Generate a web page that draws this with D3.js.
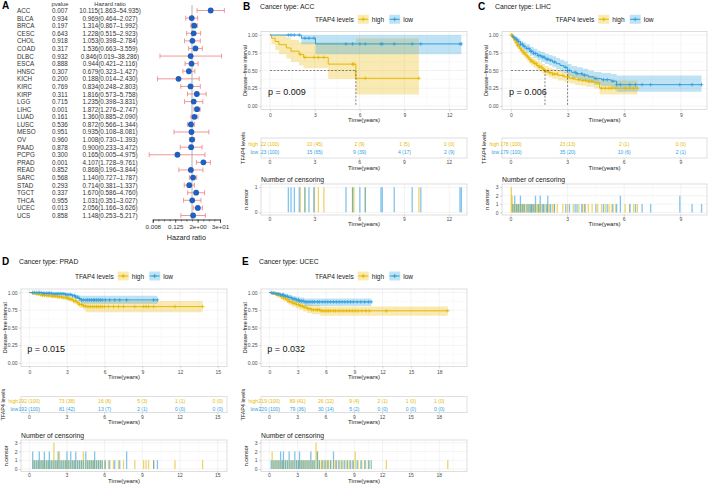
<!DOCTYPE html>
<html><head><meta charset="utf-8">
<script src="https://cdn.jsdelivr.net/npm/d3@7"></script>
<style>body{margin:0;background:#fff} svg{display:block;font-family:"Liberation Sans",Arial,sans-serif}</style>
</head><body><svg id="c" width="709" height="486"></svg>
<script>
// ================= DATA =================
// Panel A: forest plot
const forestNames = ["ACC","BLCA","BRCA","CESC","CHOL","COAD","DLBC","ESCA","HNSC","KICH","KIRC","KIRP","LGG","LIHC","LUAD","LUSC","MESO","OV","PAAD","PCPG","PRAD","READ","SARC","STAD","TGCT","THCA","UCEC","UCS"];
const forestP = ["0.007","0.934","0.197","0.643","0.918","0.317","0.932","0.888","0.307","0.200","0.769","0.311","0.715","0.001","0.161","0.536","0.951","0.960","0.878","0.300","0.001","0.852","0.568","0.293","0.337","0.955","0.013","0.858"];
const forestHR = [10.115,0.969,1.314,1.228,1.053,1.536,0.846,0.944,0.679,0.188,0.834,1.816,1.235,1.872,1.360,0.872,0.935,1.008,0.900,0.165,4.107,0.868,1.140,0.714,1.670,1.031,2.056,1.148];
const forestLo = [1.863,0.464,0.867,0.515,0.398,0.663,0.019,0.421,0.323,0.014,0.248,0.573,0.398,1.276,0.885,0.566,0.108,0.730,0.233,0.005,1.728,0.196,0.727,0.381,0.586,0.351,1.166,0.253];
const forestHi = [54.935,2.027,1.992,2.923,2.784,3.559,38.286,2.116,1.427,2.430,2.803,5.758,3.831,2.747,2.090,1.344,8.081,1.393,3.472,4.975,9.761,3.844,1.787,1.337,4.760,3.027,3.626,5.217];
const forestTicks = [0.0078125,0.125,2,32];
const forestTickLabels = ["0.008","0.125","2e+00","3e+01"];

// Panel B: ACC
const accHighTime  = [0,0.1,0.35,0.6,1.1,1.4,1.95,2.25,3.9,5.75];
const accHighSurv  = [1,0.955,0.909,0.864,0.818,0.773,0.727,0.685,0.59,0.39];
const accHighLower = [1,0.87,0.79,0.73,0.67,0.62,0.57,0.53,0.38,0.16];
const accHighUpper = [1,1,1,1,0.97,0.93,0.90,0.90,0.90,0.95];
const accHighEnd = 9.97;
const accHighCensor = [2.03,2.34,2.95,3.24,3.61,5.53,5.62,6.38,9.97];
const accLowTime  = [0,2.1,3.05];
const accLowSurv  = [1,0.955,0.875];
const accLowLower = [1,0.87,0.73];
const accLowUpper = [1,1,1];
const accLowEnd = 12.81;
const accLowCensor = [1.23,1.41,1.63,1.96,2.34,2.61,2.95,5.09,5.53,6.02,6.38,7.43,7.52,8.32,9.52,10.1,12.72,12.81];
const accRiskTimes = [0,3,6,9,12];
const accRiskHigh = ["22 (100)","10 (45)","2 (9)","1 (5)","0 (0)"];
const accRiskLow  = ["23 (100)","15 (65)","9 (39)","4 (17)","2 (9)"];

// Panel C: LIHC
const lihcHighTime  = [0,0.08,0.15,0.25,0.35,0.45,0.55,0.65,0.75,0.85,0.95,1.05,1.2,1.35,1.5,1.65,1.8,2.0,2.2,2.5,2.8,3.1,3.4,3.7,4.0,4.4,4.7];
const lihcHighSurv  = [1,0.97,0.93,0.89,0.85,0.81,0.78,0.75,0.72,0.69,0.66,0.63,0.60,0.57,0.55,0.52,0.49,0.47,0.45,0.43,0.41,0.39,0.37,0.36,0.35,0.33,0.25];
const lihcHighLower = [1,0.945,0.895,0.85,0.80,0.76,0.72,0.69,0.66,0.63,0.60,0.57,0.54,0.51,0.485,0.455,0.425,0.405,0.385,0.36,0.34,0.315,0.295,0.285,0.27,0.245,0.16];
const lihcHighUpper = [1,0.99,0.965,0.93,0.895,0.86,0.83,0.81,0.78,0.75,0.72,0.69,0.665,0.635,0.615,0.59,0.56,0.54,0.52,0.50,0.48,0.465,0.45,0.44,0.43,0.415,0.36];
const lihcHighEnd = 6.7;
const lihcHighCensor = [0.02,0.02,0.02,0.06,0.06,0.12,0.2,0.28,0.35,0.42,0.5,0.58,0.66,0.72,0.8,0.9,1.0,1.08,1.15,1.25,1.33,1.42,1.5,1.6,1.72,1.85,1.95,2.05,2.2,2.3,2.45,2.75,3.0,3.3,3.6,3.8,3.95,4.1,4.3,4.6,4.8,5.0,5.2,5.35,5.55,6.05,6.3,6.5,6.7];
const lihcLowTime  = [0,0.08,0.15,0.25,0.35,0.5,0.65,0.8,1.0,1.2,1.4,1.6,1.8,2.0,2.2,2.4,2.6,2.8,3.0,3.2,3.5,3.8,4.1,4.4,4.8,5.3,5.6];
const lihcLowSurv  = [1,0.98,0.96,0.94,0.91,0.87,0.84,0.81,0.77,0.74,0.71,0.69,0.66,0.645,0.62,0.595,0.57,0.545,0.50,0.475,0.455,0.435,0.41,0.385,0.37,0.35,0.30];
const lihcLowLower = [1,0.96,0.93,0.90,0.865,0.82,0.785,0.75,0.71,0.675,0.645,0.62,0.59,0.57,0.545,0.52,0.49,0.465,0.42,0.395,0.37,0.35,0.325,0.30,0.28,0.26,0.20];
const lihcLowUpper = [1,1,0.99,0.975,0.955,0.92,0.895,0.87,0.835,0.805,0.78,0.76,0.735,0.72,0.70,0.675,0.65,0.63,0.59,0.565,0.545,0.525,0.50,0.48,0.465,0.45,0.43];
const lihcLowEnd = 10.1;
const lihcLowCensor = [0.1,0.2,0.2,0.3,0.4,0.5,0.5,0.6,0.7,0.85,0.95,1.05,1.1,1.2,1.3,1.3,1.45,1.55,1.55,1.68,1.75,1.9,1.95,1.95,2.1,2.3,2.9,3.1,3.4,3.5,3.75,3.9,4.5,4.9,5.1,5.4,5.6,5.8,5.8,6.3,6.6,6.95,7.4,8.95,8.95,9.6,10.1];
const lihcRiskTimes = [0,3,6,9];
const lihcRiskHigh = ["178 (100)","23 (13)","2 (1)","0 (0)"];
const lihcRiskLow  = ["179 (100)","35 (20)","10 (6)","2 (1)"];

// Panel D: PRAD
const pradHighTime  = [0,0.2,0.5,0.8,1.0,1.4,1.8,2.2,2.6,3.0,3.2,3.5,3.8,4.0,4.3,4.5];
const pradHighSurv  = [1,0.99,0.98,0.97,0.96,0.955,0.948,0.94,0.93,0.92,0.905,0.88,0.855,0.83,0.81,0.80];
const pradHighLower = [1,0.975,0.96,0.948,0.935,0.928,0.92,0.91,0.898,0.885,0.868,0.84,0.812,0.785,0.755,0.72];
const pradHighUpper = [1,1,0.998,0.993,0.985,0.982,0.977,0.972,0.965,0.958,0.945,0.925,0.9,0.885,0.875,0.88];
const pradHighEnd = 13.8;
const pradHighCensor = [0.3,0.45,0.6,0.75,0.9,1.05,1.2,1.35,1.5,1.65,1.8,1.96,1.96,1.96,2.1,2.25,2.4,2.4,2.55,2.7,2.85,3.0,3.1,3.25,3.4,3.55,3.7,3.85,4.0,4.15,4.3,4.3,4.45,4.6,4.75,4.9,5.05,5.2,5.35,5.5,5.65,5.8,6.0,6.3,6.7,7.1,7.5,8.4,9.1,9.3,9.5,9.9,11.6,13.8];
const pradLowTime  = [0,1.0,1.8,2.9,3.4,3.7,3.9,4.1];
const pradLowSurv  = [1,0.99,0.983,0.97,0.955,0.935,0.915,0.895];
const pradLowLower = [1,0.975,0.965,0.948,0.928,0.905,0.875,0.84];
const pradLowUpper = [1,1,1,0.993,0.983,0.967,0.96,0.955];
const pradLowEnd = 10.2;
const pradLowCensor = [0.27,0.27,0.4,0.55,0.7,0.8,0.8,0.95,1.1,1.2,1.2,1.35,1.5,1.6,1.6,1.75,1.9,2.05,2.2,2.3,2.3,2.45,2.6,2.75,2.9,3.0,3.0,3.15,3.3,3.3,3.45,3.6,3.7,3.7,3.85,4.0,4.15,4.3,4.5,4.5,4.65,4.8,4.95,5.1,5.2,5.2,5.35,5.5,5.65,5.8,6.05,6.4,6.8,7.2,7.75,7.75,9.9,10.2];
const pradRiskTimes = [0,3,6,9,12,15];
const pradRiskHigh = ["192 (100)","73 (38)","16 (8)","5 (3)","1 (1)","0 (0)"];
const pradRiskLow  = ["192 (100)","81 (42)","13 (7)","2 (1)","0 (0)","0 (0)"];

// Panel E: UCEC
const ucecHighTime  = [0,0.3,0.6,0.9,1.2,1.5,1.8,2.1,2.4,2.8,3.2,3.6,4.0,4.5,5.4];
const ucecHighSurv  = [1,0.99,0.98,0.96,0.94,0.92,0.895,0.87,0.85,0.83,0.81,0.79,0.77,0.755,0.74];
const ucecHighLower = [1,0.972,0.955,0.928,0.9,0.876,0.848,0.82,0.797,0.775,0.752,0.73,0.708,0.69,0.67];
const ucecHighUpper = [1,1,1,0.99,0.978,0.963,0.942,0.92,0.904,0.887,0.87,0.853,0.835,0.823,0.80];
const ucecHighEnd = 18.9;
const ucecHighCensor = [0.3,0.3,0.5,0.7,0.9,1.1,1.3,1.5,1.7,1.9,2.1,2.3,2.5,2.7,2.9,3.1,3.3,3.5,3.7,3.9,4.1,4.3,4.5,4.7,4.95,4.95,4.95,5.1,5.1,5.3,5.5,5.7,5.9,6.1,6.3,6.5,6.8,7.0,7.3,7.6,7.9,8.2,8.5,8.8,9.1,9.1,9.4,9.8,10.2,10.6,12.4,18.9];
const ucecLowTime  = [0,0.4,0.8,1.2,1.6,2.0,2.4,2.8,3.2,3.7];
const ucecLowSurv  = [1,0.99,0.98,0.965,0.948,0.93,0.91,0.895,0.88,0.867];
const ucecLowLower = [1,0.972,0.955,0.935,0.915,0.893,0.87,0.853,0.836,0.81];
const ucecLowUpper = [1,1,1,0.995,0.982,0.968,0.952,0.94,0.928,0.914];
const ucecLowEnd = 10.8;
const ucecLowCensor = [0.2,0.4,0.6,0.8,1.0,1.2,1.2,1.4,1.5,1.5,1.7,1.9,2.1,2.1,2.3,2.5,2.7,2.7,2.9,3.1,3.2,3.2,3.4,3.6,3.8,4.0,4.2,4.4,4.4,4.6,4.8,5.1,5.1,5.3,5.6,5.9,6.2,6.5,6.8,6.8,7.1,7.4,7.7,8.0,8.3,8.6,8.9,9.3,9.7,10.1,10.5,10.8];
const ucecRiskTimes = [0,3,6,9,12,15,18];
const ucecRiskHigh = ["219 (100)","89 (41)","26 (12)","9 (4)","2 (1)","1 (0)","1 (0)"];
const ucecRiskLow  = ["220 (100)","79 (36)","30 (14)","5 (2)","0 (0)","0 (0)","0 (0)"];

const groupNames = ["high","low"];
const legendTitle = "TFAP4 levels";

// ================= DRAW =================
const svg = d3.select("#c");
const HIGH = "#E7B800", LOW = "#2E9FDF";
const GRID = "#e6e6e6", GRIDMINOR = "#f3f3f3", BORDER = "#c8c8c8", TICKTXT = "#4d4d4d";

// ---------- Panel A ----------
(function(){
  const g = svg.append("g");
  const fy = d3.scalePoint().domain(forestNames).range([10.5, 215.5]);
  const fx = d3.scaleLog().base(2).domain([2**-7, 32]).range([152.8, 220]);
  const FS = 6.3;
  g.append("text").attr("x",2).attr("y",9).attr("font-weight","bold").attr("font-size",10).text("A");
  g.append("text").attr("x",60).attr("y",4).attr("dominant-baseline","central").attr("text-anchor","middle").attr("font-size",5.8).attr("fill","#333").text("pvalue");
  g.append("text").attr("x",110).attr("y",4).attr("dominant-baseline","central").attr("text-anchor","middle").attr("font-size",5.8).attr("fill","#333").text("Hazard ratio");
  forestNames.forEach((n,i)=>{
    const yy = fy(n);
    g.append("text").attr("x",17).attr("y",yy).attr("dominant-baseline","central").attr("font-size",FS).attr("fill","#333").text(n);
    g.append("text").attr("x",60).attr("y",yy).attr("dominant-baseline","central").attr("text-anchor","middle").attr("font-size",FS).attr("fill","#333").text(forestP[i]);
    g.append("text").attr("x",110).attr("y",yy).attr("dominant-baseline","central").attr("text-anchor","middle").attr("font-size",FS).attr("fill","#333")
      .text(`${forestHR[i].toFixed(3)}(${forestLo[i].toFixed(3)}\u2013${forestHi[i].toFixed(3)})`);
  });
  // reference line at HR = 1
  g.append("line").attr("x1",fx(1)).attr("x2",fx(1)).attr("y1",5).attr("y2",219).attr("stroke","#a0a0a0").attr("stroke-width",0.8);
  const eb = g.append("g").attr("stroke","#f28b8b").attr("stroke-width",0.9).attr("fill","none");
  forestNames.forEach((n,i)=>{
    const yy = fy(n), x1 = fx(forestLo[i]), x2 = fx(forestHi[i]);
    eb.append("line").attr("x1",x1).attr("x2",x2).attr("y1",yy).attr("y2",yy);
    eb.append("line").attr("x1",x1).attr("x2",x1).attr("y1",yy-2.4).attr("y2",yy+2.4);
    eb.append("line").attr("x1",x2).attr("x2",x2).attr("y1",yy-2.4).attr("y2",yy+2.4);
  });
  g.selectAll("circle.f").data(forestNames).join("circle").attr("class","f")
    .attr("cx",(d,i)=>fx(forestHR[i])).attr("cy",d=>fy(d)).attr("r",2.9).attr("fill","#1f5fbf");
  // axis
  const minor = d3.range(-7,6).map(k=>2**k);
  const axMinor = d3.axisBottom(fx).tickValues(minor).tickSize(2).tickFormat("");
  const axMajor = d3.axisBottom(fx).tickValues(forestTicks).tickSize(3.5).tickPadding(2)
      .tickFormat((d,i)=>forestTickLabels[i]);
  const a1 = g.append("g").attr("transform","translate(0,219.5)").call(axMinor);
  const a2 = g.append("g").attr("transform","translate(0,219.5)").call(axMajor);
  [a1,a2].forEach(a=>{ a.selectAll("path,line").attr("stroke","#333").attr("stroke-width",0.6); a.selectAll("text").attr("font-size",6.2).attr("fill","#333").attr("font-family",null); });
  g.append("text").attr("x",(fx.range()[0]+fx.range()[1])/2).attr("y",237.5).attr("dominant-baseline","central").attr("text-anchor","middle").attr("font-size",7.2).attr("fill","#222").text("Hazard ratio");
})();

// ---------- KM panels ----------
function mkGroup(name,color,time,surv,lower,upper,end,censor){ return {name,color,time,surv,lower,upper,end,censor}; }

const panels = [
  { letter:"B", title:"Cancer type: ACC", lx:243, headY:6, legendY:19.3,
    km:{x0:261,x1:467,y0:31.5,y1:109.5}, xDomain:[-0.60,13.19], ticks:accRiskTimes, pval:"p = 0.009",
    risk:{y0:138,y1:158,hy:144.3,ly:151.7,tickY:162.3,titleY:167.7},
    cens:{titleY:179.3,y0:184,y1:215,zeroY:212.3,topY:187.3,max:1,tickY:219,titleY2:224.3},
    groups:[mkGroup("high",HIGH,accHighTime,accHighSurv,accHighLower,accHighUpper,accHighEnd,accHighCensor),
            mkGroup("low",LOW,accLowTime,accLowSurv,accLowLower,accLowUpper,accLowEnd,accLowCensor)],
    riskHigh:accRiskHigh, riskLow:accRiskLow },
  { letter:"C", title:"Cancer type: LIHC", lx:478, headY:6, legendY:19.3,
    km:{x0:502,x1:707,y0:31.5,y1:109.5}, xDomain:[-0.477,10.39], ticks:lihcRiskTimes, pval:"p = 0.006",
    risk:{y0:138,y1:158,hy:144.3,ly:151.7,tickY:162.3,titleY:167.7},
    cens:{titleY:179.3,y0:184,y1:215,zeroY:212.5,topY:187.3,max:3,tickY:219,titleY2:224.3},
    groups:[mkGroup("high",HIGH,lihcHighTime,lihcHighSurv,lihcHighLower,lihcHighUpper,lihcHighEnd,lihcHighCensor),
            mkGroup("low",LOW,lihcLowTime,lihcLowSurv,lihcLowLower,lihcLowUpper,lihcLowEnd,lihcLowCensor)],
    riskHigh:lihcRiskHigh, riskLow:lihcRiskLow },
  { letter:"D", title:"Cancer type: PRAD", lx:2, headY:261.7, legendY:276,
    km:{x0:21,x1:227,y0:289,y1:366.5}, xDomain:[-0.66,15.74], ticks:pradRiskTimes, pval:"p = 0.015",
    risk:{y0:396.7,y1:412.7,hy:400.7,ly:408.7,tickY:416.7,titleY:422.3},
    cens:{titleY:435.7,y0:440,y1:471.7,zeroY:469,topY:442.7,max:3,tickY:475,titleY2:480.5},
    groups:[mkGroup("high",HIGH,pradHighTime,pradHighSurv,pradHighLower,pradHighUpper,pradHighEnd,pradHighCensor),
            mkGroup("low",LOW,pradLowTime,pradLowSurv,pradLowLower,pradLowUpper,pradLowEnd,pradLowCensor)],
    riskHigh:pradRiskHigh, riskLow:pradRiskLow },
  { letter:"E", title:"Cancer type: UCEC", lx:242, headY:261.7, legendY:276,
    km:{x0:261,x1:467,y0:289,y1:366.5}, xDomain:[-0.88,20.94], ticks:ucecRiskTimes, pval:"p = 0.032",
    risk:{y0:396.7,y1:412.7,hy:400.7,ly:408.7,tickY:416.7,titleY:422.3},
    cens:{titleY:435.7,y0:440,y1:471.7,zeroY:469,topY:442.7,max:3,tickY:475,titleY2:480.5},
    groups:[mkGroup("high",HIGH,ucecHighTime,ucecHighSurv,ucecHighLower,ucecHighUpper,ucecHighEnd,ucecHighCensor),
            mkGroup("low",LOW,ucecLowTime,ucecLowSurv,ucecLowLower,ucecLowUpper,ucecLowEnd,ucecLowCensor)],
    riskHigh:ucecRiskHigh, riskLow:ucecRiskLow }
];

function styleAxis(a, fs){
  a.select(".domain").remove();
  a.selectAll("line").attr("stroke","#b3b3b3").attr("stroke-width",0.5);
  a.selectAll("text").attr("font-size",fs||5).attr("fill",TICKTXT).attr("font-family",null);
}
function txt(g,x,y,s,fs,opt){
  const t = g.append("text").attr("x",x).attr("y",y).attr("dominant-baseline","central").attr("font-size",fs).text(s);
  if(opt){ Object.keys(opt).forEach(k=>t.attr(k,opt[k])); }
  return t;
}
function stepVal(times, vals, t){ const i = d3.bisectRight(times, t) - 1; return vals[Math.max(0,i)]; }

function drawKM(p){
  const g = svg.append("g");
  const x = d3.scaleLinear().domain(p.xDomain).range([p.km.x0,p.km.x1]);
  const y = d3.scaleLinear().domain([-0.05,1.05]).range([p.km.y1,p.km.y0]);
  const cx = (p.km.x0+p.km.x1)/2;
  const step = p.ticks[1]-p.ticks[0];
  const minorX = d3.range(p.ticks[0]-step/2, p.xDomain[1], step).filter(v=>v>p.xDomain[0]);

  // header
  txt(g,p.lx,p.headY,p.letter,10,{"font-weight":"bold"});
  txt(g,p.lx+17,p.headY,p.title,6.8,{fill:"#222"});

  // legend
  const lg = g.append("g");
  let cur = 0;
  const lt = txt(lg,0,p.legendY,legendTitle,6.6,{fill:"#222"});
  cur = lt.node().getComputedTextLength()+4;
  p.groups.forEach(gr=>{
    lg.append("rect").attr("x",cur).attr("y",p.legendY-4.5).attr("width",11).attr("height",9).attr("fill",gr.color).attr("fill-opacity",0.3);
    lg.append("line").attr("x1",cur+0.5).attr("x2",cur+10.5).attr("y1",p.legendY).attr("y2",p.legendY).attr("stroke",gr.color).attr("stroke-width",1);
    lg.append("path").attr("d",`M${cur+3.5},${p.legendY}H${cur+7.5}M${cur+5.5},${p.legendY-2}V${p.legendY+2}`).attr("stroke",gr.color).attr("stroke-width",0.9);
    cur += 14;
    const tl = txt(lg,cur,p.legendY,gr.name,6.6,{fill:"#222"});
    cur += tl.node().getComputedTextLength()+5;
  });
  lg.attr("transform",`translate(${cx-(cur-5)/2},0)`);

  // KM panel grid
  const kg = g.append("g");
  minorX.forEach(v=>kg.append("line").attr("x1",x(v)).attr("x2",x(v)).attr("y1",p.km.y0).attr("y2",p.km.y1).attr("stroke",GRIDMINOR).attr("stroke-width",0.4));
  [0.125,0.375,0.625,0.875].forEach(v=>kg.append("line").attr("x1",p.km.x0).attr("x2",p.km.x1).attr("y1",y(v)).attr("y2",y(v)).attr("stroke",GRIDMINOR).attr("stroke-width",0.4));
  p.ticks.forEach(v=>kg.append("line").attr("x1",x(v)).attr("x2",x(v)).attr("y1",p.km.y0).attr("y2",p.km.y1).attr("stroke",GRID).attr("stroke-width",0.5));
  [0,0.25,0.5,0.75,1].forEach(v=>kg.append("line").attr("x1",p.km.x0).attr("x2",p.km.x1).attr("y1",y(v)).attr("y2",y(v)).attr("stroke",GRID).attr("stroke-width",0.5));

  // bands, lines
  const stepsOf = gr => { const pts = gr.time.map((t,i)=>({t,s:gr.surv[i],lo:gr.lower[i],up:gr.upper[i]})); const l = pts[pts.length-1]; pts.push({t:gr.end,s:l.s,lo:l.lo,up:l.up}); return pts; };
  const area = d3.area().curve(d3.curveStepAfter).x(d=>x(d.t)).y0(d=>y(d.lo)).y1(d=>y(d.up));
  const line = d3.line().curve(d3.curveStepAfter).x(d=>x(d.t)).y(d=>y(d.s));
  p.groups.forEach(gr=>g.append("path").attr("d",area(stepsOf(gr))).attr("fill",gr.color).attr("fill-opacity",0.3));
  p.groups.forEach(gr=>g.append("path").attr("d",line(stepsOf(gr))).attr("fill","none").attr("stroke",gr.color).attr("stroke-width",1));
  p.groups.forEach(gr=>{
    const uniq = Array.from(new Set(gr.censor));
    g.append("path").attr("d",uniq.map(t=>{ const xx=x(t), yy=y(stepVal(gr.time,gr.surv,t)); return `M${xx-1.8},${yy}H${xx+1.8}M${xx},${yy-1.8}V${yy+1.8}`; }).join(""))
      .attr("stroke",gr.color).attr("stroke-width",0.8).attr("fill","none");
  });
  // median lines
  const meds = p.groups.map(gr=>{ const i = gr.surv.findIndex(s=>s<=0.5); return i>=0 ? gr.time[i] : null; }).filter(v=>v!==null);
  if(meds.length){
    const mg = g.append("g").attr("stroke","#333").attr("stroke-width",0.6).attr("stroke-dasharray","2,1.6");
    mg.append("line").attr("x1",x(0)).attr("x2",x(d3.max(meds))).attr("y1",y(0.5)).attr("y2",y(0.5));
    meds.forEach(m=>mg.append("line").attr("x1",x(m)).attr("x2",x(m)).attr("y1",y(0.5)).attr("y2",y(0)));
  }
  // border
  g.append("rect").attr("x",p.km.x0).attr("y",p.km.y0).attr("width",p.km.x1-p.km.x0).attr("height",p.km.y1-p.km.y0).attr("fill","none").attr("stroke",BORDER).attr("stroke-width",0.6);
  // p-value
  txt(g,x(0)-2,y(0.2),p.pval,9,{fill:"#111"});
  // axes
  styleAxis(g.append("g").attr("transform",`translate(${p.km.x0},0)`).call(d3.axisLeft(y).tickValues([0,0.25,0.5,0.75,1]).tickFormat(d3.format(".2f")).tickSize(2).tickPadding(1.5)));
  styleAxis(g.append("g").attr("transform",`translate(0,${p.km.y1})`).call(d3.axisBottom(x).tickValues(p.ticks).tickSize(2).tickPadding(1.5)));
  txt(g,cx,p.km.y1+10,"Time(years)",6,{"text-anchor":"middle",fill:"#222"});
  txt(g,0,0,"Disease\u2212free interval",5.4,{"text-anchor":"middle",fill:"#222",transform:`translate(${p.km.x0-16.5},${(p.km.y0+p.km.y1)/2}) rotate(-90)`});

  // risk table
  const r = p.risk;
  g.append("rect").attr("x",p.km.x0).attr("y",r.y0).attr("width",p.km.x1-p.km.x0).attr("height",r.y1-r.y0).attr("fill","none").attr("stroke",BORDER).attr("stroke-width",0.6);
  p.ticks.forEach((t,i)=>{
    txt(g,x(t),r.hy,p.riskHigh[i],5,{"text-anchor":"middle",fill:HIGH});
    txt(g,x(t),r.ly,p.riskLow[i],5,{"text-anchor":"middle",fill:LOW});
  });
  txt(g,p.km.x0-3,r.hy,"high",5,{"text-anchor":"end",fill:HIGH});
  txt(g,p.km.x0-3,r.ly,"low",5,{"text-anchor":"end",fill:LOW});
  p.ticks.forEach(t=>{
    g.append("line").attr("x1",x(t)).attr("x2",x(t)).attr("y1",r.y1).attr("y2",r.y1+1.8).attr("stroke","#b3b3b3").attr("stroke-width",0.5);
    txt(g,x(t),r.tickY,String(t),5,{"text-anchor":"middle",fill:TICKTXT});
  });
  txt(g,cx,r.titleY,"Time(years)",6,{"text-anchor":"middle",fill:"#222"});
  txt(g,0,0,legendTitle,5.4,{"text-anchor":"middle",fill:"#222",transform:`translate(${p.km.x0-18.5},${(r.y0+r.y1)/2}) rotate(-90)`});

  // censoring plot
  const c = p.cens;
  const cy = d3.scaleLinear().domain([0,c.max]).range([c.zeroY,c.topY]);
  txt(g,p.km.x0,c.titleY,"Number of censoring",6.8,{fill:"#222"});
  const cg = g.append("g");
  minorX.forEach(v=>cg.append("line").attr("x1",x(v)).attr("x2",x(v)).attr("y1",c.y0).attr("y2",c.y1).attr("stroke",GRIDMINOR).attr("stroke-width",0.4));
  p.ticks.forEach(v=>cg.append("line").attr("x1",x(v)).attr("x2",x(v)).attr("y1",c.y0).attr("y2",c.y1).attr("stroke",GRID).attr("stroke-width",0.5));
  d3.range(0,c.max+1).forEach(v=>cg.append("line").attr("x1",p.km.x0).attr("x2",p.km.x1).attr("y1",cy(v)).attr("y2",cy(v)).attr("stroke",GRID).attr("stroke-width",0.5));
  p.groups.forEach(gr=>{
    const counts = d3.rollups(gr.censor, v=>v.length, d=>d);
    cg.selectAll(null).data(counts).join("rect")
      .attr("x",d=>x(d[0])-0.65).attr("width",1.3)
      .attr("y",d=>cy(d[1])).attr("height",d=>cy(0)-cy(d[1]))
      .attr("fill",gr.color).attr("fill-opacity",0.6);
  });
  g.append("rect").attr("x",p.km.x0).attr("y",c.y0).attr("width",p.km.x1-p.km.x0).attr("height",c.y1-c.y0).attr("fill","none").attr("stroke",BORDER).attr("stroke-width",0.6);
  styleAxis(g.append("g").attr("transform",`translate(${p.km.x0},0)`).call(d3.axisLeft(cy).tickValues(d3.range(0,c.max+1)).tickFormat(d3.format("d")).tickSize(2).tickPadding(1.5)));
  p.ticks.forEach(t=>{
    g.append("line").attr("x1",x(t)).attr("x2",x(t)).attr("y1",c.y1).attr("y2",c.y1+1.8).attr("stroke","#b3b3b3").attr("stroke-width",0.5);
    txt(g,x(t),c.tickY,String(t),5,{"text-anchor":"middle",fill:TICKTXT});
  });
  txt(g,cx,c.titleY2,"Time(years)",6,{"text-anchor":"middle",fill:"#222"});
  txt(g,0,0,"n.censor",5.4,{"text-anchor":"middle",fill:"#222",transform:`translate(${p.km.x0-15},${(c.y0+c.y1)/2}) rotate(-90)`});
}
panels.forEach(drawKM);
</script></body></html>
